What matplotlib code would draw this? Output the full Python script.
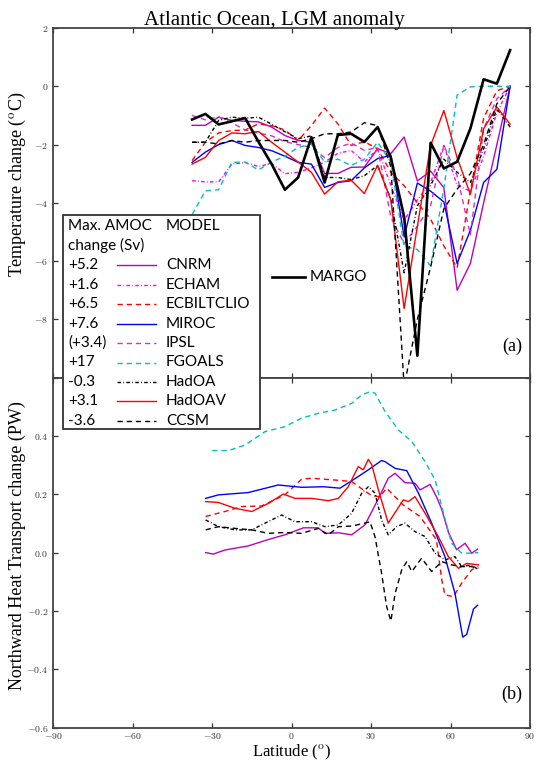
import matplotlib
matplotlib.use("Agg")
import matplotlib.pyplot as plt
import matplotlib.ticker as ticker
from matplotlib.lines import Line2D
from matplotlib.patches import Rectangle

plt.rcParams['mathtext.fontset'] = 'cm'
plt.rcParams['font.family'] = 'Liberation Serif'

# ---------------- panel (a): SST anomaly, 5 deg bins ----------------
lat_t = [-37.5, -32.5, -27.5, -22.5, -17.5, -12.5, -7.5, -2.5, 2.5, 7.5, 12.5, 17.5,
         22.5, 27.5, 32.5, 37.5, 42.5, 47.5, 52.5, 57.5, 62.5, 67.5, 72.5, 77.5, 82.5]

margo = [-1.14, -0.95, -1.31, -1.2, -1.09, -1.9, -2.67, -3.55, -3.13, -1.75, -3.3, -1.67,
         -1.63, -1.91, -1.4, -2.45, -4.48, -9.25, -1.94, -2.82, -2.59, -1.45, 0.24, 0.09, 1.24]
cnrm_t = [-1.34, -1.34, -1.06, -1.17, -1.2, -1.22, -1.4, -1.69, -1.86, -1.92, -2.99, -2.99,
          -2.78, -2.77, -2.14, -2.31, -1.74, -3.25, -2.91, -3.48, -7.0, -6.08, -4.0, -2.0, 0.0]
echam_t = [-3.24, -3.28, -3.28, -2.67, -2.62, -2.75, -2.65, -3.0, -2.95, -2.8, -2.6, -2.3,
           -2.2, -2.6, -2.15, -3.4, -4.6, -3.9, -3.3, -2.03, -3.4, -3.6, -2.4, -0.9, 0.0]
ecbilt_t = [-2.55, -1.92, -1.6, -1.52, -1.5, -1.29, -1.35, -1.5, -1.86, -1.35, -0.75, -1.29,
            -2.03, -1.9, -2.15, -2.95, -3.41, -4.0, -4.56, -5.48, -6.23, -3.6, -1.1, -0.15, 0.0]
miroc_t = [-2.61, -2.26, -2.0, -1.86, -2.03, -2.1, -2.21, -2.4, -2.61, -2.67, -3.47, -3.3,
           -3.24, -2.8, -2.48, -2.37, -5.17, -3.32, -3.6, -3.97, -6.08, -4.94, -3.3, -2.85, 0.0]
ipsl_t = [-1.0, -1.15, -1.05, -1.25, -1.5, -1.6, -1.7, -1.9, -2.0, -2.1, -2.45, -2.1,
          -1.95, -2.2, -2.1, -4.5, -5.4, -4.8, -4.1, -2.03, -3.07, -5.1, -1.46, -0.43, 0.0]
fgoals_t = [-4.4, -3.59, -3.55, -2.61, -2.6, -2.87, -2.6, -2.4, -2.1, -1.98, -2.6, -2.5,
            -2.72, -2.5, -1.92, -2.6, -5.49, -5.6, -6.17, -3.5, -0.3, -0.02, 0.0, 0.0, 0.0]
hadoa_t = [-1.92, -1.92, -1.17, -1.06, -1.1, -1.06, -1.3, -1.56, -1.8, -1.7, -3.13, -3.13,
           -3.2, -3.07, -2.72, -3.87, -6.4, -4.1, -3.4, -2.5, -2.95, -3.3, -2.15, -0.77, -1.4]
hadoav_t = [-2.67, -2.44, -1.86, -1.6, -1.63, -1.55, -1.92, -2.26, -2.6, -2.95, -3.7, -3.28,
            -3.22, -3.68, -2.71, -3.91, -7.63, -4.8, -2.03, -0.83, -2.45, -3.7, -1.46, -0.71, -1.3]
ccsm_t = [-1.92, -1.92, -1.98, -1.86, -1.92, -1.86, -1.86, -1.86, -1.92, -1.8, -1.63, -1.63,
          -1.57, -1.25, -1.35, -2.77, -10.3, -8.0, -6.2, -4.2, -3.53, -3.0, -2.0, -0.6, 0.0]

# ---------------- panel (b): northward heat transport ----------------
cnrm_lat = [-32.4, -29.5, -25.1, -16.3, -8.7, -2.5, 4.5, 10.1, 12.6, 17.7, 22.7, 27.7, 32.8,
            36.5, 39.1, 42.8, 46.6, 48.5, 52.3, 54.8, 56.7, 59.2, 62.3, 65.5, 68.0, 70.2]
cnrm_b = [0.0, -0.005, 0.009, 0.023, 0.045, 0.061, 0.085, 0.085, 0.066, 0.068, 0.061, 0.095, 0.185,
          0.255, 0.272, 0.240, 0.238, 0.215, 0.234, 0.19, 0.148, 0.07, 0.01, 0.032, -0.002, 0.012]
ecbilt_lat = [-32.4, -25.1, -18.8, -11.3, -2.5, 3.8, 7.6, 16.4, 22.7, 27.1, 30.3, 33.4, 35.9,
              42.2, 48.5, 54.7, 56.7, 57.9, 61.1, 64.2, 68.0, 70.5]
ecbilt_b = [0.124, 0.141, 0.158, 0.160, 0.198, 0.252, 0.255, 0.249, 0.244, 0.215, 0.195, 0.192, 0.221,
            0.163, 0.124, 0.044, -0.094, -0.145, -0.151, -0.105, -0.059, -0.048]
miroc_lat = [-32.4, -27.6, -16.3, -5.0, 3.8, 12.0, 18.3, 25.2, 29.0, 34.0, 35.3, 39.1, 43.5,
             47.9, 52.9, 57.9, 61.7, 64.6, 66.1, 68.7, 70.2]
miroc_b = [0.186, 0.198, 0.206, 0.232, 0.224, 0.226, 0.221, 0.261, 0.284, 0.316, 0.312, 0.289, 0.281,
           0.204, 0.101, -0.014, -0.140, -0.290, -0.281, -0.193, -0.181]
fgoals_lat = [-29.9, -23.8, -17.5, -10.0, -2.5, 3.8, 10.1, 16.4, 22.7, 26.5, 29.6, 31.5, 35.3,
              40.3, 45.4, 50.4, 54.2, 56.7, 60.4, 64.2, 68.0, 70.5]
fgoals_b = [0.350, 0.350, 0.369, 0.415, 0.432, 0.461, 0.478, 0.489, 0.512, 0.541, 0.552, 0.547, 0.484,
            0.421, 0.381, 0.312, 0.249, 0.158, 0.032, -0.002, -0.002, 0.0]
hadoa_lat = [-32.4, -27.6, -21.3, -15.0, -10.0, -3.7, 1.3, 7.6, 12.6, 17.7, 22.7, 26.5, 29.0,
             31.5, 34.0, 36.5, 39.7, 42.8, 46.6, 50.4, 54.2, 57.9, 61.7, 64.2, 68.0, 70.5]
hadoa_b = [0.112, 0.089, 0.078, 0.078, 0.101, 0.129, 0.106, 0.106, 0.089, 0.095, 0.135, 0.204, 0.226,
           0.204, 0.112, 0.061, 0.089, 0.101, 0.072, 0.055, -0.002, -0.025, -0.014, -0.048, -0.042, -0.059]
hadoav_lat = [-32.4, -27.6, -21.3, -15.0, -8.7, -3.1, 1.3, 7.6, 13.9, 17.7, 21.4, 25.2, 27.1, 29.0,
              30.3, 32.8, 36.5, 39.7, 42.2, 44.1, 46.6, 50.4, 55.4, 59.2, 63.0, 66.1, 70.5]
hadoav_b = [0.175, 0.172, 0.152, 0.141, 0.169, 0.201, 0.186, 0.186, 0.178, 0.186, 0.226, 0.295, 0.284,
            0.320, 0.301, 0.215, 0.101, 0.146, 0.181, 0.175, 0.192, 0.135, 0.055, -0.014, -0.054,
            -0.037, -0.042]
ccsm_lat = [-32.4, -27.6, -21.3, -15.0, -8.7, -2.5, 3.8, 10.1, 13.9, 17.7, 22.7, 27.7, 29.6, 31.5,
            34.0, 35.9, 37.5, 39.1, 41.6, 43.5, 45.4, 49.1, 52.9, 56.7, 60.4, 64.2, 68.0, 70.5]
ccsm_b = [0.078, 0.089, 0.083, 0.078, 0.066, 0.069, 0.066, 0.083, 0.061, 0.089, 0.091, 0.101, 0.106,
          0.055, -0.071, -0.185, -0.235, -0.140, -0.059, -0.031, -0.065, -0.019, -0.065, -0.031,
          -0.042, -0.048, -0.048, -0.054]

models = ['CNRM', 'ECHAM', 'ECBILTCLIO', 'MIROC', 'IPSL', 'FGOALS', 'HadOA', 'HadOAV', 'CCSM']
amoc = ['+5.2', '+1.6', '+6.5', '+7.6', '(+3.4)', '+17', '-0.3', '+3.1', '-3.6']

DASH = (3.8, 2.8)
DDOT = (2.6, 1.6, 0.6, 1.6)
style = {
    'CNRM': ('#bf00bf', None),
    'ECHAM': ('#ff00ff', DDOT),
    'ECBILTCLIO': ('#ff0000', DASH),
    'MIROC': ('#0000ff', None),
    'IPSL': ('#cc33cc', DASH),
    'FGOALS': ('#00bfbf', DASH),
    'HadOA': ('#000000', DDOT),
    'HadOAV': ('#ff0000', None),
    'CCSM': ('#000000', DASH),
}
top = {'CNRM': cnrm_t, 'ECHAM': echam_t, 'ECBILTCLIO': ecbilt_t, 'MIROC': miroc_t,
       'IPSL': ipsl_t, 'FGOALS': fgoals_t, 'HadOA': hadoa_t, 'HadOAV': hadoav_t, 'CCSM': ccsm_t}
bottom = {'CNRM': (cnrm_lat, cnrm_b), 'ECBILTCLIO': (ecbilt_lat, ecbilt_b),
          'MIROC': (miroc_lat, miroc_b), 'FGOALS': (fgoals_lat, fgoals_b),
          'HadOA': (hadoa_lat, hadoa_b), 'HadOAV': (hadoav_lat, hadoav_b),
          'CCSM': (ccsm_lat, ccsm_b)}

W, H = 537.0, 761.0
def fx(px):
    return px / W
def fy(py):
    return 1 - py / H

fig = plt.figure(figsize=(5.37, 7.61), dpi=100)
ax1 = fig.add_axes([fx(53), fy(377.7), 477 / W, 349.7 / H])
ax2 = fig.add_axes([fx(53), fy(727.5), 477 / W, 349.8 / H])


def draw(ax, name, x, y):
    c, d = style[name]
    ln, = ax.plot(x, y, color=c, lw=1.0)
    if d is not None:
        ln.set_dashes(d)
    return ln

for m in models:
    draw(ax1, m, lat_t, top[m])
ax1.plot(lat_t, margo, color='k', lw=1.9)

for m in models:
    if m in bottom:
        draw(ax2, m, bottom[m][0], bottom[m][1])

ax1.set_ylim(-10, 2)
ax2.set_ylim(-0.6, 0.6)
for ax in (ax1, ax2):
    ax.set_xlim(-90, 90)
    ax.xaxis.set_major_locator(ticker.MultipleLocator(30))
    ax.tick_params(direction='in', top=True, right=True, length=3.5, width=0.9,
                   labelsize=7, labelcolor='#333333', color='#333333', pad=3.5)
    for s in ax.spines.values():
        s.set_color('#444444')
        s.set_linewidth(1.3)
ax2.tick_params(axis='x', pad=2.5)

ax1.yaxis.set_major_locator(ticker.MultipleLocator(2))
ax1.yaxis.set_major_formatter(ticker.FuncFormatter(
    lambda v, p: '' if v < -9 else r'$%d$' % round(v)))
ax1.tick_params(labelbottom=False)
ax2.yaxis.set_major_locator(ticker.MultipleLocator(0.2))
ax2.yaxis.set_major_formatter(ticker.FuncFormatter(
    lambda v, p: '' if v > 0.5 else r'$%.1f$' % (0.0 if abs(v) < 1e-9 else v)))
ax2.xaxis.set_major_formatter(ticker.FuncFormatter(lambda v, p: r'$%d$' % round(v)))

# labels
fig.text(fx(274), fy(25), 'Atlantic Ocean, LGM anomaly', fontsize=15,
         ha='center', va='baseline')
fig.text(fx(17), fy(184), 'Temperature change ($^{\\mathrm{o}}$C)', fontsize=13,
         rotation=90, ha='center', va='center')
fig.text(fx(17), fy(546), 'Northward Heat Transport change (PW)', fontsize=13,
         rotation=90, ha='center', va='center')
fig.text(fx(291.5), fy(756.5), 'Latitude ($^{\\mathrm{o}}$)', fontsize=12,
         ha='center', va='baseline')
fig.text(fx(522), fy(346), '(a)', fontsize=13, ha='right', va='center')
fig.text(fx(522), fy(694), '(b)', fontsize=13, ha='right', va='center')

# legend box (manual, spans both panels)
lfont = 'Lato'
fig.add_artist(Rectangle((fx(63), fy(429)), fx(260) - fx(63), fy(215) - fy(429),
                         transform=fig.transFigure, facecolor='white',
                         edgecolor='#333333', lw=1.3, zorder=10))
row0, step = 226, 19.5
fig.text(fx(68), fy(row0), 'Max. AMOC', family=lfont, fontsize=11, va='center', zorder=11)
fig.text(fx(166), fy(row0), 'MODEL', family=lfont, fontsize=11, va='center', zorder=11)
fig.text(fx(68), fy(row0 + step), 'change (Sv)', family=lfont, fontsize=11, va='center', zorder=11)
for i, m in enumerate(models):
    yy = fy(row0 + step * (i + 2))
    fig.text(fx(68), yy, amoc[i], family=lfont, fontsize=11, va='center', zorder=11)
    fig.text(fx(166), yy, m, family=lfont, fontsize=11, va='center', zorder=11)
    c, d = style[m]
    ln = Line2D([fx(117), fx(156)], [yy, yy], transform=fig.transFigure,
                color=c, lw=1.0, zorder=11)
    if d is not None:
        ln.set_dashes(d)
    fig.add_artist(ln)

# MARGO legend entry
fig.add_artist(Line2D([fx(272), fx(305)], [fy(277), fy(277)], transform=fig.transFigure,
                      color='k', lw=1.9, zorder=11))
fig.text(fx(310), fy(277), 'MARGO', family=lfont, fontsize=11, va='center', zorder=11)

plt.savefig('out.png', dpi=100)
